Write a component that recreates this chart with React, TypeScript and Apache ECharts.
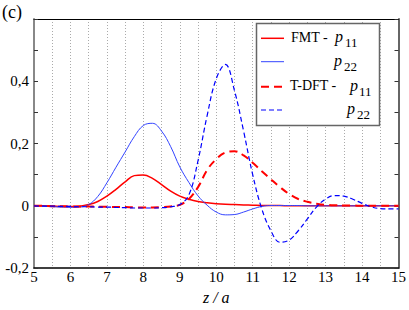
import React, { useEffect, useRef } from "react";
import * as echarts from "echarts";

const zValues = [5, 5.25, 5.5, 5.75, 6, 6.25, 6.5, 6.75, 7, 7.25, 7.5, 7.75, 8, 8.25, 8.5, 8.75, 9, 9.25, 9.5, 9.75, 10, 10.25, 10.5, 10.75, 11, 11.25, 11.5, 11.75, 12, 12.25, 12.5, 12.75, 13, 13.25, 13.5, 13.75, 14, 14.25, 14.5, 14.75, 15];

const fmtP11 = [0, 0, -0.001, -0.002, -0.002, -0.001, 0.004, 0.014, 0.031, 0.053, 0.077, 0.097, 0.099, 0.088, 0.068, 0.047, 0.031, 0.021, 0.014, 0.01, 0.007, 0.005, 0.004, 0.003, 0.002, 0.001, 0.001, 0.001, 0, 0, 0, 0, 0, 0, 0, 0, 0, 0, 0, 0, 0];

const fmtP22 = [0, -0.001, -0.003, -0.004, -0.005, -0.004, 0.004, 0.03, 0.074, 0.124, 0.173, 0.222, 0.258, 0.265, 0.24, 0.19, 0.125, 0.075, 0.032, 0.002, -0.02, -0.029, -0.028, -0.02, -0.01, -0.002, 0.001, 0.001, 0.001, 0.001, 0, 0, 0, 0, 0, 0, 0, 0, 0, 0, 0];

const tdftP11 = [0, 0, -0.001, -0.001, -0.002, -0.002, -0.002, -0.003, -0.003, -0.004, -0.004, -0.005, -0.005, -0.005, -0.004, -0.002, 0.003, 0.022, 0.06, 0.115, 0.15, 0.171, 0.175, 0.162, 0.138, 0.111, 0.085, 0.06, 0.038, 0.022, 0.013, 0.007, 0.003, 0.002, 0.001, 0.001, 0, 0, 0, 0, 0];

const tdftP22 = [0, -0.001, -0.001, -0.002, -0.002, -0.003, -0.003, -0.004, -0.004, -0.005, -0.006, -0.007, -0.007, -0.007, -0.006, -0.003, 0.004, 0.035, 0.145, 0.29, 0.408, 0.454, 0.37, 0.24, 0.1, -0.01, -0.08, -0.117, -0.11, -0.08, -0.042, -0.004, 0.022, 0.033, 0.031, 0.021, 0.008, -0.003, -0.009, -0.01, -0.01];

const xTickLabels = ["5", "6", "7", "8", "9", "10", "11", "12", "13", "14", "15"];
const yTickLabels: Record<number, string> = { [-2]: "-0,2", 0: "0", 2: "0,2", 4: "0,4" };

const SERIF = "Liberation Serif";

const toPairs = (vals: number[]) => zValues.map((z, i) => [z, vals[i]]);

export default function App() {
  const ref = useRef<HTMLDivElement>(null);
  useEffect(() => {
    document.body.style.margin = "0";
    if (!ref.current) return;
    const chart = echarts.init(ref.current, null, { renderer: "svg", width: 409, height: 310 });

    const legendRows = [
      { y: 38.3, color: "#ff0000", width: 1.5, dash: null as any },
      { y: 61.7, color: "#3344ff", width: 1, dash: null as any },
      { y: 86.7, color: "#ff0000", width: 2, dash: [8, 5] },
      { y: 110, color: "#0000ff", width: 1.2, dash: [5, 3] },
    ];

    const txt = (x: number, y: number, text: string, size: number, italic = false) => ({
      type: "text",
      x,
      y,
      z: 100,
      style: {
        text,
        font: `${italic ? "italic" : "normal"} normal ${size}px "${SERIF}", serif`,
        fill: "#000",
        align: "left",
        verticalAlign: "middle",
      },
    });

    const graphic: any[] = [
      txt(2, 11.5, "(c)", 18),
      {
        type: "rect",
        z: 90,
        shape: { x: 256.5, y: 23.5, width: 123, height: 102 },
        style: { fill: "#fff", stroke: "#666", lineWidth: 1.5 },
      },
      ...legendRows.map((r) => ({
        type: "line",
        z: 100,
        shape: { x1: 261, y1: r.y, x2: 284, y2: r.y },
        style: { stroke: r.color, lineWidth: r.width, lineDash: r.dash || undefined },
      })),
      txt(291, 37, "FMT -", 14),
      txt(335, 36.5, "p", 16, true),
      txt(345, 42.5, "11", 13),
      txt(334, 60, "p", 16, true),
      txt(344, 66, "22", 13),
      txt(290, 85.5, "T-DFT -", 14),
      txt(350, 85, "p", 16, true),
      txt(359, 91, "11", 13),
      txt(347, 108.5, "p", 16, true),
      txt(357, 114.5, "22", 13),
    ];

    const option: any = {
      animation: false,
      textStyle: { fontFamily: SERIF },
      grid: { left: 34, right: 9, top: 19, bottom: 35.5 },
      xAxis: [
        {
          type: "value",
          min: 5,
          max: 15,
          interval: 0.5,
          position: "bottom",
          axisLine: { show: true, onZero: false, lineStyle: { color: "#000", width: 1.5 } },
          axisTick: { show: false },
          axisLabel: {
            formatter: (v: number) => {
              const k = Math.round(v);
              return Math.abs(v - k) < 1e-6 ? xTickLabels[k - 5] : "";
            },
            fontFamily: SERIF,
            fontSize: 15,
            color: "#000",
            margin: 1,
            showMinLabel: true,
            showMaxLabel: true,
          },
          splitLine: { show: true, lineStyle: { color: "#aaa", type: [1, 2], width: 1 } },
          name: "z / a",
          nameLocation: "middle",
          nameGap: 20,
          nameTextStyle: { fontFamily: SERIF, fontStyle: "italic", fontSize: 16, color: "#000" },
        },
        {
          type: "value",
          min: 5,
          max: 15,
          position: "top",
          axisLine: { show: true, onZero: false, lineStyle: { color: "#000", width: 1 } },
          axisTick: { show: false },
          axisLabel: { show: false },
          splitLine: { show: false },
        },
      ],
      yAxis: [
        {
          type: "value",
          min: -0.2,
          max: 0.6,
          interval: 0.1,
          position: "left",
          axisLine: { show: true, onZero: false, lineStyle: { color: "#888", width: 2 } },
          axisTick: { show: true, inside: true, length: 4, lineStyle: { color: "#333" } },
          axisLabel: {
            formatter: (v: number) => {
              const k = Math.round(v * 10);
              return yTickLabels[k] ?? "";
            },
            fontFamily: SERIF,
            fontSize: 15,
            color: "#000",
            margin: 5,
          },
          splitLine: { show: false },
        },
        {
          type: "value",
          min: -0.2,
          max: 0.6,
          interval: 0.1,
          position: "right",
          axisLine: { show: true, onZero: false, lineStyle: { color: "#666", width: 2 } },
          axisTick: { show: true, inside: true, length: 4, lineStyle: { color: "#333" } },
          axisLabel: { show: false },
          splitLine: { show: false },
        },
      ],
      series: [
        {
          name: "FMT - p11",
          type: "line",
          data: toPairs(fmtP11),
          showSymbol: false,
          smooth: 0.4,
          lineStyle: { color: "#ff0000", width: 1.5 },
        },
        {
          name: "FMT p22",
          type: "line",
          data: toPairs(fmtP22),
          showSymbol: false,
          smooth: 0.4,
          lineStyle: { color: "#3344ff", width: 1 },
        },
        {
          name: "T-DFT - p11",
          type: "line",
          data: toPairs(tdftP11),
          showSymbol: false,
          smooth: 0.4,
          lineStyle: { color: "#ff0000", width: 2, type: [8, 5] },
        },
        {
          name: "T-DFT p22",
          type: "line",
          data: toPairs(tdftP22),
          showSymbol: false,
          smooth: 0.4,
          lineStyle: { color: "#0000ff", width: 1.2, type: [5, 3] },
        },
      ],
      graphic,
    };
    chart.setOption(option);
    return () => chart.dispose();
  }, []);
  return <div ref={ref} style={{ position: "absolute", left: 0, top: 0, width: 409, height: 310 }} />;
}
